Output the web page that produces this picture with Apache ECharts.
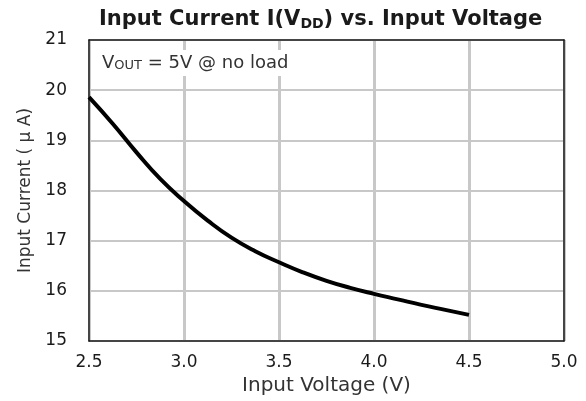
<!DOCTYPE html>
<html>
<head>
<meta charset="utf-8">
<script src="https://cdn.jsdelivr.net/npm/echarts@6/dist/echarts.min.js"></script>
<style>
  html, body { margin: 0; padding: 0; background: #fff; }
  #chart { width: 586px; height: 401px; }
</style>
</head>
<body>
<div id="chart"></div>
<script>
  // 输入电压 (V)
  const voltage = [2.5, 2.625, 2.75, 2.875, 3.0, 3.125, 3.25, 3.375, 3.5, 3.625, 3.75, 3.875, 4.0, 4.125, 4.25, 4.375, 4.5];
  // 输入电流 (µA)
  const current = [19.86, 19.33, 18.76, 18.23, 17.79, 17.4, 17.06, 16.79, 16.57, 16.37, 16.2, 16.06, 15.94, 15.83, 15.72, 15.62, 15.52];
  // 刻度
  const xTicks = [2.5, 3.0, 3.5, 4.0, 4.5, 5.0];
  const yTicks = [15, 16, 17, 18, 19, 20, 21];

  const font = 'DejaVu Sans';
  const ink = '#1a1a1a';
  const gridGray = '#c8c8c8';

  const myChart = echarts.init(document.getElementById('chart'));

  const frameAxis = { // 上/右边框
    show: true,
    axisLine: { show: true, lineStyle: { color: ink, width: 1.5 } },
    axisTick: { show: false },
    axisLabel: { show: false },
    splitLine: { show: false },
    z: 5
  };

  const option = {
    backgroundColor: '#fff',
    animation: false,
    title: [{
      text: 'Input Current I(V{sub|DD}) vs. Input Voltage',
      left: 99,
      top: 8,
      padding: 0,
      textStyle: {
        fontFamily: font, fontSize: 21, fontWeight: 'bold', color: ink,
        rich: {
          sub: { fontFamily: font, fontSize: 14, fontWeight: 'bold', color: ink, verticalAlign: 'bottom', padding: [9, 0, 0, 0] }
        }
      }
    }, {
      text: 'V{s|OUT} = 5V @ no load',
      left: 98,
      top: 50,
      padding: [4, 4, 4, 4],
      backgroundColor: '#fff',
      textStyle: {
        fontFamily: font, fontSize: 18, fontWeight: 'normal', color: '#333',
        rich: {
          s: { fontFamily: font, fontSize: 13, color: '#333', verticalAlign: 'bottom', padding: [5, 0, 0, 0] }
        }
      }
    }],
    grid: {
      left: 89,
      right: 22,
      top: 40,
      bottom: 59
    },
    xAxis: [{
      type: 'value',
      min: xTicks[0],
      max: xTicks[xTicks.length - 1],
      interval: xTicks[1] - xTicks[0],
      name: 'Input Voltage (V)',
      nameLocation: 'middle',
      nameGap: 35,
      nameTextStyle: { fontFamily: font, fontSize: 20, color: '#333' },
      axisLine: { show: true, onZero: false, lineStyle: { color: ink, width: 1.5 } },
      axisTick: { show: false },
      axisLabel: {
        fontFamily: font, fontSize: 17, color: ink, margin: 13,
        formatter: v => v.toFixed(1)
      },
      splitLine: { show: true, lineStyle: { color: gridGray, width: 3 } }
    }, Object.assign({ type: 'value', position: 'top', min: xTicks[0], max: xTicks[xTicks.length - 1] }, frameAxis)],
    yAxis: [{
      type: 'value',
      min: yTicks[0],
      max: yTicks[yTicks.length - 1],
      interval: yTicks[1] - yTicks[0],
      name: 'Input Current ( \u00b5 A)',
      nameLocation: 'middle',
      nameGap: 53,
      nameTextStyle: { fontFamily: font, fontSize: 17, color: '#333' },
      axisLine: { show: true, onZero: false, lineStyle: { color: ink, width: 1.5 } },
      axisTick: { show: false },
      axisLabel: { fontFamily: font, fontSize: 17, color: ink, margin: 22 },
      splitLine: { show: true, lineStyle: { color: gridGray, width: 2 } }
    }, Object.assign({ type: 'value', position: 'right', min: yTicks[0], max: yTicks[yTicks.length - 1] }, frameAxis)],
    series: [{
      type: 'line',
      data: voltage.map((v, i) => [v, current[i]]),
      smooth: true,
      symbol: 'none',
      lineStyle: { color: '#000', width: 4 },
      z: 3
    }]
  };

  myChart.setOption(option);
</script>
</body>
</html>
